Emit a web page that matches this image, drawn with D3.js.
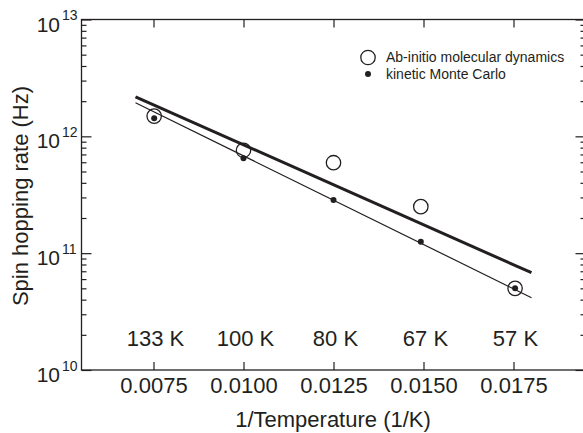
<!DOCTYPE html>
<html>
<head>
<meta charset="utf-8">
<script src="https://cdn.jsdelivr.net/npm/d3@7"></script>
<style>
  body { margin: 0; background: #fff; }
  svg { display: block; font-family: "Liberation Sans", Arial, sans-serif; }
  .axis path { display: none; }
  .axis line { stroke: #231f20; stroke-width: 1.2; }
</style>
</head>
<body>
<div id="chart"></div>
<script>
// temperatures (K) of the simulations
var temps = [133, 100, 80, 67, 57];
// Ab-initio molecular dynamics rates (Hz)
var aimdRates = [1.49e12, 7.6e11, 5.95e11, 2.5e11, 5.0e10];
// kinetic Monte Carlo rates (Hz)
var kmcRates = [1.43e12, 6.5e11, 2.85e11, 1.25e11, 5.0e10];
// fitted lines (end points in 1/T)
var fitX = [0.007, 0.018];
var fitThick = [2.18e12, 6.8e10];
var fitThin = [1.94e12, 4.16e10];
var xTicks = [0.0075, 0.0100, 0.0125, 0.0150, 0.0175];
var yMajor = [1e10, 1e11, 1e12, 1e13];
var tempLabels = ["133 K", "100 K", "80 K", "67 K", "57 K"];

var width = 583, height = 433;
var plotLeft = 81.5, plotRight = 585.5, plotTop = 19.5, plotBottom = 370;
var ink = "#231f20";

var svg = d3.select("#chart").append("svg")
    .attr("width", width)
    .attr("height", height);

var x = d3.scaleLinear().domain([0.0055, 0.0195]).range([plotLeft, plotRight]);
var y = d3.scaleLog().domain([1e10, 1e13]).range([plotBottom, plotTop]);

// minor ticks 2..9 per decade
var yMinor = [];
[1e10, 1e11, 1e12].forEach(function (d) {
    for (var m = 2; m <= 9; m++) yMinor.push(m * d);
});

// frame
svg.append("rect")
    .attr("x", plotLeft).attr("y", plotTop)
    .attr("width", plotRight - plotLeft).attr("height", plotBottom - plotTop)
    .attr("fill", "none")
    .attr("stroke", ink)
    .attr("stroke-width", 1.3);

// y ticks left (inward)
svg.append("g").attr("class", "axis")
    .attr("transform", "translate(" + plotLeft + ",0)")
    .call(d3.axisRight(y).tickValues(yMajor).tickSize(10).tickFormat(""));
svg.append("g").attr("class", "axis")
    .attr("transform", "translate(" + plotLeft + ",0)")
    .call(d3.axisRight(y).tickValues(yMinor).tickSize(5).tickFormat(""));
// y ticks right (inward)
svg.append("g").attr("class", "axis")
    .attr("transform", "translate(" + plotRight + ",0)")
    .call(d3.axisLeft(y).tickValues(yMajor).tickSize(10).tickFormat(""));
svg.append("g").attr("class", "axis")
    .attr("transform", "translate(" + plotRight + ",0)")
    .call(d3.axisLeft(y).tickValues(yMinor).tickSize(5).tickFormat(""));

// x ticks bottom (inward) with labels below
var xAxis = svg.append("g").attr("class", "axis")
    .attr("transform", "translate(0," + plotBottom + ")")
    .call(d3.axisBottom(x).tickValues(xTicks).tickSizeInner(-8).tickSizeOuter(0)
        .tickPadding(7).tickFormat(d3.format(".4f")));
xAxis.selectAll("text")
    .attr("fill", ink)
    .style("font-size", "22px");
// x ticks top (inward)
svg.append("g").attr("class", "axis")
    .attr("transform", "translate(0," + plotTop + ")")
    .call(d3.axisTop(x).tickValues(xTicks).tickSizeInner(-8).tickSizeOuter(0).tickFormat(""));

// y tick labels 10^n
var yLab = svg.append("g")
    .selectAll("g")
    .data(yMajor)
    .join("g")
    .attr("transform", d => "translate(0," + y(d) + ")");
yLab.append("text")
    .attr("x", 60).attr("y", 12)
    .attr("text-anchor", "end")
    .attr("fill", ink)
    .style("font-size", "21px")
    .text("10");
yLab.append("text")
    .attr("x", 62).attr("y", 0.5)
    .attr("fill", ink)
    .style("font-size", "14px")
    .text(d => Math.round(Math.log10(d)));

// axis titles
svg.append("text")
    .attr("x", 333)
    .attr("y", 427)
    .attr("text-anchor", "middle")
    .attr("fill", ink)
    .style("font-size", "22px")
    .text("1/Temperature (1/K)");
svg.append("text")
    .attr("transform", "translate(28,196) rotate(-90)")
    .attr("text-anchor", "middle")
    .attr("fill", ink)
    .style("font-size", "22px")
    .text("Spin hopping rate (Hz)");

// temperature labels
svg.append("g")
    .selectAll("text")
    .data(tempLabels)
    .join("text")
    .attr("x", (d, i) => x(xTicks[i]) + 2)
    .attr("y", 346)
    .attr("text-anchor", "middle")
    .attr("fill", ink)
    .style("font-size", "22px")
    .text(d => d);

// fitted lines
var line = d3.line().x(d => x(d[0])).y(d => y(d[1]));
svg.append("path")
    .attr("d", line(fitX.map((v, i) => [v, fitThick[i]])))
    .attr("fill", "none")
    .attr("stroke", ink)
    .attr("stroke-width", 3);
svg.append("path")
    .attr("d", line(fitX.map((v, i) => [v, fitThin[i]])))
    .attr("fill", "none")
    .attr("stroke", ink)
    .attr("stroke-width", 1.2);

// Ab-initio MD points
svg.append("g")
    .selectAll("circle")
    .data(temps)
    .join("circle")
    .attr("cx", d => x(1 / d))
    .attr("cy", (d, i) => y(aimdRates[i]))
    .attr("r", 7.2)
    .attr("fill", "none")
    .attr("stroke", ink)
    .attr("stroke-width", 1.3);

// kinetic Monte Carlo points
svg.append("g")
    .selectAll("circle")
    .data(temps)
    .join("circle")
    .attr("cx", d => x(1 / d))
    .attr("cy", (d, i) => y(kmcRates[i]))
    .attr("r", 3)
    .attr("fill", ink);

// legend
var legend = svg.append("g");
legend.append("circle")
    .attr("cx", 368).attr("cy", 57.5).attr("r", 7.2)
    .attr("fill", "none").attr("stroke", ink).attr("stroke-width", 1.3);
legend.append("text")
    .attr("x", 386).attr("y", 61.5)
    .attr("fill", ink)
    .style("font-size", "14px")
    .text("Ab-initio molecular dynamics");
legend.append("circle")
    .attr("cx", 368).attr("cy", 74).attr("r", 3)
    .attr("fill", ink);
legend.append("text")
    .attr("x", 386).attr("y", 79)
    .attr("fill", ink)
    .style("font-size", "14px")
    .text("kinetic Monte Carlo");
</script>
</body>
</html>
